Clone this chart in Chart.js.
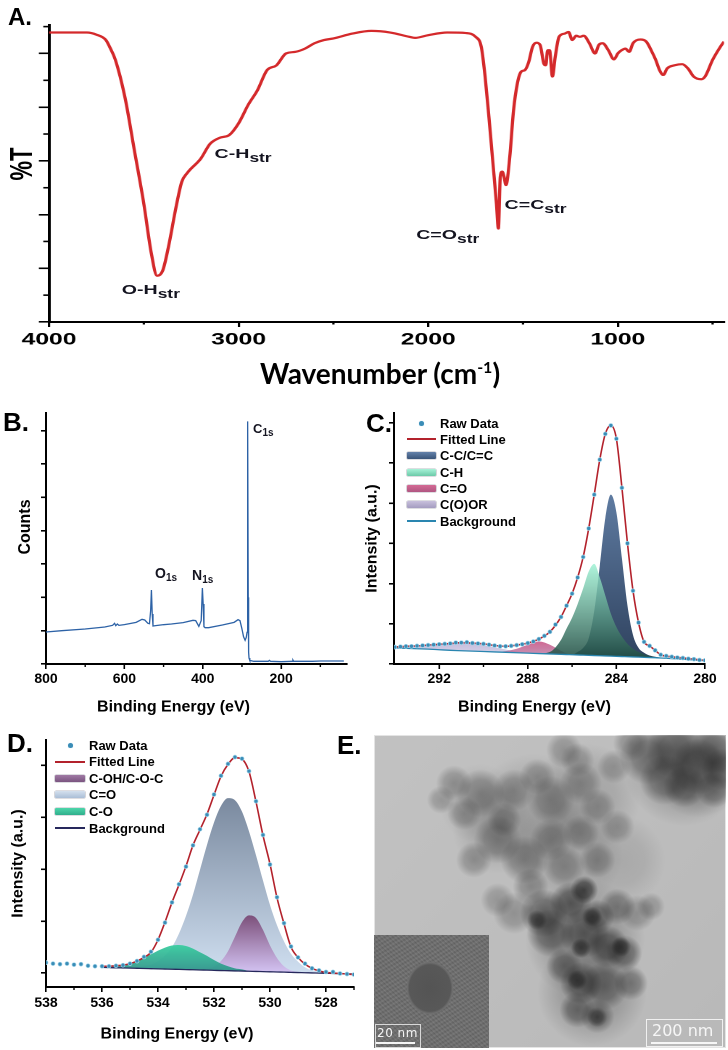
<!DOCTYPE html>
<html><head><meta charset="utf-8">
<script src="https://cdn.jsdelivr.net/npm/chart.js@4.4.1/dist/chart.umd.min.js"></script>
<style>
html,body{margin:0;padding:0;background:#fff;}
body{width:728px;height:1050px;position:relative;overflow:hidden;font-family:'Liberation Sans',Arial,sans-serif;color:#000;}
.cw{position:absolute;}
#wrapA{position:absolute;left:0;top:0;width:502px;height:395px;transform:scaleX(1.45);transform-origin:0 0;}
.lbl{position:absolute;font-weight:bold;line-height:1;white-space:nowrap;color:#141420;}
.lbl sub{line-height:0;}
.rot{position:absolute;font-weight:bold;line-height:1;white-space:nowrap;transform:translate(-50%,-50%) rotate(-90deg);}
.pl{position:absolute;font-weight:bold;font-size:26px;line-height:1;}
.leg{position:absolute;font-weight:bold;font-size:13px;line-height:13px;white-space:nowrap;}
.sym{position:absolute;}
</style>
</head><body>

<div id="wrapA">
  <div class="cw" style="left:0;top:0;width:502px;height:395px"><canvas id="chA"></canvas></div>
  <div class="lbl" style="left:84px;top:283px;font-size:13.5px">O-H<sub style="font-size:12px;vertical-align:-4px">str</sub></div>
  <div class="lbl" style="left:148px;top:147px;font-size:13.5px">C-H<sub style="font-size:12px;vertical-align:-4px">str</sub></div>
  <div class="lbl" style="left:287px;top:228px;font-size:13.5px">C=O<sub style="font-size:12px;vertical-align:-4px">str</sub></div>
  <div class="lbl" style="left:348px;top:198px;font-size:13.5px">C=C<sub style="font-size:12px;vertical-align:-4px">str</sub></div>
  <div class="rot" style="left:14.5px;top:164px;font-size:22px">%T</div>
</div>
<div class="pl" style="left:8px;top:5px;font-size:24px">A.</div>
<div style="position:absolute;left:380px;top:373px;transform:translate(-50%,-50%);font-family:Lato,'Open Sans',sans-serif;font-weight:700;font-size:28px;line-height:1;white-space:nowrap">Wavenumber (cm<sup style="font-size:16px;vertical-align:11px;line-height:0">-1</sup>)</div>

<div class="cw" style="left:0;top:400px;width:364px;height:325px"><canvas id="chB"></canvas></div>
<div class="cw" style="left:364px;top:400px;width:364px;height:325px"><canvas id="chC"></canvas></div>
<div class="cw" style="left:0;top:725px;width:364px;height:325px"><canvas id="chD"></canvas></div>
<div class="cw" style="left:364px;top:725px;width:364px;height:325px"><canvas id="chE"></canvas></div>

<div class="rot" style="left:25px;top:527px;font-size:16px">Counts</div>
<div class="lbl" style="left:253px;top:422px;font-size:13px">C<sub style="font-size:10px;vertical-align:-3px">1s</sub></div>
<div class="lbl" style="left:155px;top:566px;font-size:14px">O<sub style="font-size:10px;vertical-align:-3px">1s</sub></div>
<div class="lbl" style="left:192px;top:568px;font-size:14px">N<sub style="font-size:10px;vertical-align:-3px">1s</sub></div>

<div class="pl" style="left:3px;top:409px">B.</div>
<div class="pl" style="left:366px;top:410px">C.</div>
<div class="pl" style="left:7px;top:730px">D.</div>
<div class="pl" style="left:337px;top:732px">E.</div>

<div id="legC"></div>
<div id="legD"></div>

<div id="inset" style="position:absolute;left:374px;top:935px;width:115px;height:113px;background:radial-gradient(ellipse 24px 27px at 56px 53px,#545454 0%,#585858 86%,#6e6e6e 94%,rgba(108,108,108,0) 100%),repeating-linear-gradient(45deg,rgba(140,140,140,0.35) 0px,rgba(90,90,90,0.2) 2px,rgba(140,140,140,0.3) 3px),repeating-linear-gradient(-30deg,rgba(60,60,60,0.25) 0px,rgba(150,150,150,0.2) 2px,rgba(60,60,60,0.25) 4px),#6c6c6c;"></div>
<div style="position:absolute;left:375px;top:1024px;width:46px;height:24px;border:1px solid #d8d8d8;box-sizing:border-box;"></div>
<div style="position:absolute;left:377px;top:1026px;font-family:'DejaVu Sans',sans-serif;font-size:12px;line-height:14px;color:#f4f4f4;letter-spacing:0.5px">20 nm</div>
<div style="position:absolute;left:376px;top:1042px;width:39px;height:2px;background:#f4f4f4"></div>
<div style="position:absolute;left:646px;top:1019px;width:77px;height:28px;border:1px solid #f0f0f0;box-sizing:border-box;"></div>
<div style="position:absolute;left:652px;top:1022px;font-family:'DejaVu Sans',sans-serif;font-size:16px;line-height:17px;color:#f6f6f6;">200 nm</div>
<div style="position:absolute;left:651px;top:1042px;width:66px;height:2px;background:#f6f6f6"></div>

<script>
// ---------------- DATA ----------------
// Panel A: FTIR
const ftirWavenumber = [4000,3800,3750,3700,3680,3650,3600,3550,3500,3460,
  3430,3400,3370,3330,3300,3270,3200,3150,3100,3050,
  3000,2950,2900,2850,2800,2750,2700,2650,2600,2550,
  2500,2400,2300,2200,2100,2070,2000,1900,1800,1750,
  1720,1700,1680,1660,1640,1630,1620,1610,1600,1590,
  1570,1550,1530,1510,1490,1470,1450,1430,1410,1390,
  1380,1370,1360,1345,1330,1310,1280,1260,1240,1220,
  1200,1180,1150,1120,1100,1080,1050,1020,1000,980,
  960,940,920,880,850,820,800,780,760,740,
  700,660,630,600,560,540,500,460,440];
const ftirTransmittance = [5.39,5.39,5.35,5.25,5.12,4.88,4.19,3.20,2.20,1.27,
  0.86,0.96,1.40,2.14,2.61,2.78,3.04,3.32,3.43,3.48,
  3.70,4.04,4.32,4.69,4.78,5.00,5.03,5.09,5.19,5.25,
  5.28,5.37,5.42,5.39,5.31,5.29,5.34,5.39,5.38,5.31,
  5.12,4.57,3.82,3.01,2.20,1.74,2.70,2.80,2.70,2.55,
  3.07,3.94,4.44,4.66,4.69,4.84,5.12,5.20,5.16,4.81,
  4.78,5.06,5.06,4.57,4.94,5.31,5.37,5.40,5.25,5.33,
  5.31,5.33,5.19,5.00,5.16,5.19,5.06,4.89,5.00,5.06,
  5.09,5.03,5.19,5.26,5.22,5.03,4.88,4.69,4.60,4.72,
  4.78,4.80,4.72,4.57,4.52,4.57,4.88,5.12,5.22];
const ftirTicks = [4000,3000,2000,1000];
const ftirMinorX = [3500,2500,1500,500];
const ftirMajorY = [0,1,2,3,4,5];
const ftirMinorY = [0.5,1.5,2.5,3.5,4.5,5.5];

// Panel B: XPS survey
const surveyEnergy = [800,760,700,650,630,625,622,618,614,600,
  570,555,548,540,536,533,531,529,527,520,
  500,480,450,425,418,410,404,401,399,397,
  394,385,350,320,310,305,300,296,292,289,
  287,286,285,284,283,282,280,270,250,233,
  230,227,200,172,170,168,120,100,40];
const surveyCounts = [0.96,1.00,1.05,1.11,1.16,1.22,1.15,1.20,1.16,1.18,
  1.25,1.34,1.32,1.22,1.21,1.60,2.22,1.50,1.14,1.15,
  1.18,1.20,1.24,1.31,1.30,1.13,1.30,2.28,1.80,1.12,
  1.09,1.09,1.17,1.25,1.33,1.30,1.05,0.82,0.71,0.80,
  0.95,3.00,7.28,2.00,0.35,0.18,0.11,0.08,0.08,0.08,
  0.11,0.08,0.07,0.08,0.12,0.08,0.08,0.09,0.09];
const surveyTicks = [800,600,400,200];
const surveyMinor = [700,500,300,100];
const surveyMajorY = [0,1,2,3,4,5,6,7];

// Panel C: C1s high resolution
const c1sRawEnergy = [294,293.75,293.5,293.25,293,292.75,292.5,292.25,292,291.75,
  291.5,291.25,291,290.75,290.5,290.25,290,289.75,289.5,289.25,
  289,288.75,288.5,288.25,288,287.75,287.5,287.25,287,286.75,
  286.5,286.25,286,285.75,285.5,285.25,285,284.75,284.5,284.25,
  284,283.75,283.5,283.25,283,282.75,282.5,282.25,282,281.75,
  281.5,281.25,281,280.75,280.5,280.25,280];
const c1sRaw = [0.42,0.43,0.44,0.44,0.45,0.46,0.47,0.48,0.49,0.50,
  0.51,0.53,0.53,0.54,0.52,0.51,0.50,0.48,0.46,0.44,
  0.44,0.45,0.47,0.49,0.52,0.56,0.62,0.70,0.80,0.98,
  1.17,1.45,1.75,2.15,2.66,3.37,4.21,5.08,5.72,5.93,
  5.60,4.38,3.00,1.82,1.03,0.55,0.45,0.34,0.23,0.20,
  0.18,0.16,0.15,0.13,0.12,0.10,0.09];
const c1sEnergy = [294,293.5,293,292.5,292,291.5,291,290.5,290,289.5,
  289,288.5,288,287.5,287,286.5,286.25,286,285.75,285.5,
  285.25,285,284.75,284.5,284.25,284,283.75,283.5,283.25,283,
  282.75,282.5,282.25,282,281.5,281,280.5,280];
const c1sFit = [0.42,0.44,0.45,0.47,0.49,0.51,0.53,0.52,0.50,0.46,
  0.44,0.47,0.52,0.62,0.80,1.17,1.45,1.75,2.15,2.66,
  3.37,4.21,5.08,5.72,5.93,5.60,4.38,3.00,1.82,1.03,
  0.55,0.45,0.34,0.23,0.18,0.15,0.12,0.09];
const c1sBackground = [0.40,0.39,0.38,0.37,0.355,0.34,0.33,0.32,0.31,0.30,
  0.29,0.28,0.27,0.26,0.25,0.24,0.235,0.23,0.225,0.22,
  0.215,0.21,0.205,0.20,0.195,0.19,0.185,0.18,0.175,0.17,
  0.165,0.16,0.155,0.15,0.135,0.12,0.10,0.08];
const c1sCC = [0.40,0.39,0.38,0.37,0.355,0.34,0.33,0.32,0.31,0.30,
  0.29,0.28,0.27,0.26,0.25,0.24,0.235,0.23,0.30,0.40,
  0.64,1.32,2.44,3.63,4.21,3.77,2.62,1.45,0.72,0.40,
  0.28,0.21,0.18,0.16,0.135,0.12,0.10,0.08];
const c1sCH = [0.40,0.39,0.38,0.37,0.355,0.34,0.33,0.32,0.31,0.30,
  0.29,0.28,0.27,0.26,0.30,0.60,0.88,1.15,1.49,1.88,
  2.30,2.49,2.15,1.70,1.25,0.92,0.68,0.50,0.38,0.30,
  0.24,0.20,0.17,0.155,0.135,0.12,0.10,0.08];
const c1sCO = [0.40,0.39,0.38,0.37,0.355,0.34,0.33,0.32,0.31,0.30,
  0.32,0.38,0.48,0.56,0.48,0.33,0.26,0.23,0.225,0.22,
  0.215,0.21,0.205,0.20,0.195,0.19,0.185,0.18,0.175,0.17,
  0.165,0.16,0.155,0.15,0.135,0.12,0.10,0.08];
const c1sCOOR = [0.41,0.43,0.45,0.47,0.49,0.51,0.52,0.50,0.47,0.42,
  0.36,0.31,0.28,0.26,0.25,0.24,0.235,0.23,0.225,0.22,
  0.215,0.21,0.205,0.20,0.195,0.19,0.185,0.18,0.175,0.17,
  0.165,0.16,0.155,0.15,0.135,0.12,0.10,0.08];
const c1sTicks = [292,288,284,280];
const c1sMinor = [290,286,282];
const c1sMajorY = [0,1,2,3,4,5,6];

// Panel D: O1s high resolution
const o1sRawEnergy = [538,537.75,537.5,537.25,537,536.75,536.5,536.25,536,535.75,
  535.5,535.25,535,534.75,534.5,534.25,534,533.75,533.5,533.25,
  533,532.75,532.5,532.25,532,531.75,531.5,531.25,531,530.75,
  530.5,530.25,530,529.75,529.5,529.25,529,528.75,528.5,528.25,
  528,527.75,527.5,527.25,527];
const o1sRaw = [0.20,0.18,0.17,0.18,0.16,0.17,0.14,0.13,0.13,0.13,
  0.14,0.15,0.18,0.23,0.31,0.41,0.64,0.97,1.36,1.71,
  2.05,2.46,2.77,3.05,3.44,3.80,4.03,4.16,4.13,3.89,
  3.31,2.66,2.09,1.46,0.96,0.51,0.30,0.18,0.09,0.05,
  0.02,0.02,-0.01,-0.02,-0.03];
const o1sEnergy = [536,535.75,535.5,535.25,535,534.75,534.5,534.25,534,533.75,
  533.5,533.25,533,532.75,532.5,532.25,532,531.75,531.5,531.25,
  531,530.75,530.5,530.25,530,529.75,529.5,529.25,529,528.75,
  528.5,528.25,528,527.75,527.5,527.25,527];
const o1sFit = [0.13,0.13,0.14,0.15,0.18,0.23,0.30,0.40,0.64,0.98,
  1.36,1.70,2.06,2.46,2.76,3.06,3.43,3.79,4.02,4.15,
  4.12,3.88,3.30,2.65,2.10,1.45,0.95,0.50,0.30,0.17,
  0.09,0.04,0.01,0.00,-0.01,-0.02,-0.03];
const o1sBackground = [0.108,0.104,0.100,0.097,0.094,0.090,0.086,0.083,0.080,0.076,
  0.072,0.069,0.065,0.062,0.058,0.055,0.051,0.047,0.044,0.040,
  0.037,0.033,0.030,0.026,0.023,0.019,0.016,0.012,0.008,0.005,
  0.001,-0.002,-0.006,-0.009,-0.013,-0.016,-0.020];
const o1sCOH = [0.108,0.104,0.100,0.097,0.094,0.090,0.086,0.083,0.080,0.076,
  0.072,0.069,0.065,0.062,0.065,0.08,0.12,0.23,0.42,0.70,
  0.98,1.11,1.06,0.83,0.53,0.29,0.13,0.05,0.02,0.005,
  0.001,-0.002,-0.006,-0.009,-0.013,-0.016,-0.020];
const o1sCdO = [0.11,0.10,0.10,0.10,0.10,0.11,0.13,0.16,0.23,0.34,
  0.50,0.76,1.10,1.51,1.99,2.47,2.90,3.22,3.37,3.33,
  3.11,2.73,2.27,1.78,1.31,0.92,0.61,0.37,0.22,0.11,
  0.05,0.03,0.00,-0.01,-0.01,-0.02,-0.02];
const o1sCO = [0.12,0.12,0.13,0.16,0.18,0.23,0.30,0.36,0.43,0.49,
  0.53,0.54,0.52,0.47,0.40,0.33,0.25,0.18,0.13,0.09,
  0.07,0.04,0.03,0.026,0.023,0.019,0.016,0.012,0.008,0.005,
  0.001,-0.002,-0.006,-0.009,-0.013,-0.016,-0.020];
const o1sTicks = [538,536,534,532,530,528];
const o1sMinor = [537,535,533,531,529,527];
const o1sMajorY = [0,1,2,3,4];

// Panel E: TEM particle agglomerate (position in % of frame, radius, darkness)
const particleX = [77.7,85.3,91.9,82.5,96.7,96.7,73.0,88.2,99.0,
  22.7,30.3,39.8,19.0,46.4,54.0,50.2,58.8,63.5,68.2,57.8,25.6,
  35.1,42.7,28.4,50.2,58.8,54.0,63.5,69.2,37.0,44.5,
  48.3,55.9,59.7,50.2,59.7,66.4,71.1,58.8,65.4,57.8,63.5,73.0,54.0,39.8,35.1,74.9,78.7,69.2,63.5,
  58.8,70.2,57.7,63.4,46.3,62.0,
  45,60,35,55,88,60,62,30,92,70];
const particleY = [6.9,4.8,10.1,14.4,4.8,17.6,2.7,16.5,11.0,
  15.4,18.6,17.6,20.7,13.3,4.8,20.7,15.4,22.9,10.1,8.0,25.0,
  33.5,39.9,39.9,33.5,31.4,42.0,39.9,29.3,27.1,48.4,
  56.9,53.7,49.5,63.3,63.3,67.6,69.7,79.3,80.3,87.8,89.9,79.3,73.9,56.9,52.7,56.9,54.8,54.8,58.0,
  68.1,67.7,78.3,90.1,59.1,58.0,
  25,20,30,38,10,65,82,22,12,40];
const particleSize = [28,28,28,25,24,18,18,21,21,
  18,24,21,14,18,18,24,21,18,17,17,17,
  24,24,18,21,18,21,18,17,17,18,
  24,21,14,24,25,21,18,21,24,18,17,17,18,21,17,18,14,18,17,
  10,10,10,10,10,10,
  60,55,45,55,60,60,55,40,45,45];
const particleTone = [0.42,0.45,0.45,0.40,0.42,0.36,0.30,0.40,0.42,
  0.30,0.32,0.30,0.25,0.28,0.28,0.30,0.30,0.28,0.25,0.25,0.28,
  0.34,0.36,0.30,0.30,0.28,0.30,0.28,0.25,0.28,0.33,
  0.55,0.58,0.72,0.50,0.55,0.58,0.50,0.55,0.46,0.46,0.40,0.40,0.44,0.28,0.25,0.28,0.25,0.40,0.46,
  0.62,0.62,0.62,0.58,0.58,0.60,
  0.16,0.16,0.14,0.16,0.25,0.28,0.25,0.12,0.25,0.12];

// ---------------- HELPERS ----------------
Chart.defaults.font.family = "'Liberation Sans', Arial, sans-serif";
Chart.defaults.color = '#000';
Chart.defaults.animation = false;

const xy = (xs, ys) => xs.map((x, i) => ({x: x, y: ys[i]}));

Chart.register({
  id: 'minorTicks',
  afterDraw(chart, args, o) {
    if (!o || (!o.x && !o.y)) return;
    const ctx = chart.ctx, a = chart.chartArea, sx = chart.scales.x, sy = chart.scales.y;
    ctx.save();
    ctx.strokeStyle = '#000';
    ctx.lineWidth = o.width || 1.5;
    (o.x || []).forEach(v => { const p = sx.getPixelForValue(v); ctx.beginPath(); ctx.moveTo(p, a.bottom); ctx.lineTo(p, a.bottom + o.lenX); ctx.stroke(); });
    (o.y || []).forEach(v => { const p = sy.getPixelForValue(v); ctx.beginPath(); ctx.moveTo(a.left, p); ctx.lineTo(a.left - o.lenY, p); ctx.stroke(); });
    ctx.restore();
  }
});

function xAxis(min, max, ticks, o) {
  return {
    type: 'linear', reverse: true, min: min, max: max,
    afterBuildTicks: s => { s.ticks = ticks.map(v => ({value: v})); },
    afterFit: s => { s.height = o.h; },
    border: {display: true, color: '#000', width: o.bw},
    grid: {display: true, drawOnChartArea: false, drawTicks: true, tickLength: o.tl, tickWidth: o.tw, lineWidth: o.tw, color: '#000'},
    ticks: {display: true, autoSkip: false, maxRotation: 0, minRotation: 0, padding: o.pad, color: '#000',
      font: {size: o.fs, weight: 'bold'}, callback: v => String(v)}
  };
}
function yAxis(min, max, ticks, o) {
  return {
    type: 'linear', min: min, max: max,
    afterBuildTicks: s => { s.ticks = ticks.map(v => ({value: v})); },
    afterFit: s => { s.width = o.w; },
    border: {display: true, color: '#000', width: o.bw},
    grid: {display: true, drawOnChartArea: false, drawTicks: true, tickLength: o.tl, tickWidth: o.tw, lineWidth: o.tw, color: '#000'},
    ticks: {display: false},
    title: o.title ? {display: true, text: o.title, color: '#000', font: {size: 16, weight: 'bold', lineHeight: o.tlh}, padding: {top: o.tpad, bottom: 0}} : {display: false}
  };
}
function vGrad(topColor, bottomColor) {
  return c => {
    const ch = c.chart, a = ch.chartArea;
    if (!a) return topColor;
    const ys = ch.scales.y;
    const vals = c.dataset.data.map(p => p.y);
    const top = ys.getPixelForValue(Math.max.apply(null, vals));
    const bot = ys.getPixelForValue(Math.min.apply(null, vals));
    const g = ch.ctx.createLinearGradient(0, top, 0, bot);
    g.addColorStop(0, topColor); g.addColorStop(1, bottomColor);
    return g;
  };
}
const baseOpts = (pad) => ({
  responsive: true, maintainAspectRatio: false, animation: false, devicePixelRatio: 2,
  layout: {padding: pad, autoPadding: false},
  events: []
});
const bottomTitle = (pb) => ({display: true, position: 'bottom', text: 'Binding Energy (eV)', color: '#000',
  font: {size: 16, weight: 'bold'}, padding: {top: 0, bottom: pb}});
const rawStyle = {showLine: false, pointRadius: 2, pointBackgroundColor: '#3a8cb6', pointBorderColor: '#a6d8ec', pointBorderWidth: 0.7};
const lineStyle = (col, w) => ({showLine: true, borderColor: col, borderWidth: w, pointRadius: 0, cubicInterpolationMode: 'monotone', fill: false});
const compStyle = (topC, botC) => ({showLine: true, borderWidth: 0, borderColor: 'rgba(0,0,0,0)', pointRadius: 0, cubicInterpolationMode: 'monotone', fill: 2, backgroundColor: vGrad(topC, botC)});

// ---------------- PANEL A ----------------
const chartA = new Chart(document.getElementById('chA'), {
  type: 'scatter',
  data: {datasets: [Object.assign({label: 'FTIR', data: xy(ftirWavenumber, ftirTransmittance)}, lineStyle('#d4292b', 2.2))]},
  options: Object.assign(baseOpts({left: 0, top: 25, right: 2.7, bottom: 0}), {
    plugins: {legend: {display: false}, tooltip: {enabled: false},
      minorTicks: {x: ftirMinorX, y: ftirMinorY, lenX: 2.5, lenY: 4, width: 1.6}},
    scales: {
      x: xAxis(440, 4000, ftirTicks, {h: 73, bw: 2, tl: 5, tw: 1.6, pad: 2.5, fs: 17}),
      y: yAxis(0, 5.53, ftirMajorY, {w: 33.8, bw: 2, tl: 7, tw: 1.6})
    }
  })
});

// ---------------- PANEL B ----------------
const chartB = new Chart(document.getElementById('chB'), {
  type: 'scatter',
  data: {datasets: [{label: 'Survey', data: xy(surveyEnergy, surveyCounts), showLine: true, borderColor: '#2d62a6', borderWidth: 1.3, pointRadius: 0, tension: 0, fill: false}]},
  options: Object.assign(baseOpts({left: 0, top: 13, right: 17, bottom: 0}), {
    plugins: {legend: {display: false}, tooltip: {enabled: false}, title: bottomTitle(8.4),
      minorTicks: {x: surveyMinor, lenX: 3, width: 1.4}},
    scales: {
      x: xAxis(32, 800, surveyTicks, {h: 33.4, bw: 2, tl: 5, tw: 1.6, pad: 1.6, fs: 14}),
      y: yAxis(0, 7.53, surveyMajorY, {w: 46, bw: 2, tl: 5, tw: 1.6})
    }
  })
});

// ---------------- PANEL C ----------------
const chartC = new Chart(document.getElementById('chC'), {
  type: 'scatter',
  data: {datasets: [
    Object.assign({label: 'Raw Data', data: xy(c1sRawEnergy, c1sRaw)}, rawStyle),
    Object.assign({label: 'Fitted Line', data: xy(c1sEnergy, c1sFit)}, lineStyle('#b3222c', 1.6)),
    Object.assign({label: 'Background', data: xy(c1sEnergy, c1sBackground)}, lineStyle('#2a86b0', 1.3)),
    Object.assign({label: 'C-H', data: xy(c1sEnergy, c1sCH)}, compStyle('rgba(158,242,212,0.82)', 'rgba(28,72,62,0.88)')),
    Object.assign({label: 'C-C/C=C', data: xy(c1sEnergy, c1sCC)}, compStyle('rgba(86,116,156,0.95)', 'rgba(36,56,86,0.95)')),
    Object.assign({label: 'C=O', data: xy(c1sEnergy, c1sCO)}, compStyle('rgba(200,78,128,0.85)', 'rgba(160,100,150,0.6)')),
    Object.assign({label: 'C(O)OR', data: xy(c1sEnergy, c1sCOOR)}, compStyle('rgba(176,166,208,0.75)', 'rgba(205,198,228,0.6)'))
  ]},
  options: Object.assign(baseOpts({left: 0, top: 13, right: 23, bottom: 0}), {
    plugins: {legend: {display: false}, tooltip: {enabled: false}, title: bottomTitle(8.4),
      minorTicks: {x: c1sMinor, lenX: 3, width: 1.4}},
    scales: {
      x: xAxis(280, 294.04, c1sTicks, {h: 33.4, bw: 2, tl: 5, tw: 1.6, pad: 1.6, fs: 14}),
      y: yAxis(0, 6.24, c1sMajorY, {w: 30, bw: 2, tl: 5, tw: 1.6, title: 'Intensity (a.u.)', tlh: 1, tpad: 0})
    }
  })
});

// ---------------- PANEL D ----------------
const chartD = new Chart(document.getElementById('chD'), {
  type: 'scatter',
  data: {datasets: [
    Object.assign({label: 'Raw Data', data: xy(o1sRawEnergy, o1sRaw)}, rawStyle),
    Object.assign({label: 'Fitted Line', data: xy(o1sEnergy, o1sFit)}, lineStyle('#b3222c', 1.6)),
    Object.assign({label: 'Background', data: xy(o1sEnergy, o1sBackground)}, lineStyle('#26285c', 1.3)),
    Object.assign({label: 'C-O', data: xy(o1sEnergy, o1sCO)}, compStyle('rgba(58,206,160,0.95)', 'rgba(44,140,134,0.92)')),
    Object.assign({label: 'C-OH/C-O-C', data: xy(o1sEnergy, o1sCOH)}, compStyle('rgba(122,74,118,0.95)', 'rgba(214,196,246,0.92)')),
    Object.assign({label: 'C=O', data: xy(o1sEnergy, o1sCdO)}, compStyle('rgba(118,134,156,0.97)', 'rgba(206,222,240,0.97)'))
  ]},
  options: Object.assign(baseOpts({left: 0, top: 15, right: 10, bottom: 0}), {
    plugins: {legend: {display: false}, tooltip: {enabled: false}, title: bottomTitle(6.4),
      minorTicks: {x: o1sMinor, lenX: 3, width: 1.4}},
    scales: {
      x: xAxis(527, 538, o1sTicks, {h: 37.4, bw: 2, tl: 5, tw: 1.6, pad: 2.6, fs: 14}),
      y: yAxis(-0.27, 4.49, o1sMajorY, {w: 46, bw: 2, tl: 5, tw: 1.6, title: 'Intensity (a.u.)', tlh: 1.2, tpad: 8.4})
    }
  })
});

// ---------------- PANEL E ----------------
const temBackground = {
  id: 'temBackground',
  beforeDraw(chart) {
    const ctx = chart.ctx, a = chart.chartArea;
    const g = ctx.createLinearGradient(a.left, a.top, a.right, a.bottom);
    g.addColorStop(0, '#c2c2c2'); g.addColorStop(1, '#b9b9b9');
    ctx.save(); ctx.fillStyle = g; ctx.fillRect(a.left, a.top, a.right - a.left, a.bottom - a.top);
    ctx.strokeStyle = '#e4e4e4'; ctx.lineWidth = 1; ctx.strokeRect(a.left + 0.5, a.top + 0.5, a.right - a.left - 1, a.bottom - a.top - 1);
    ctx.restore();
  }
};
const softBlob = c => {
  const ch = c.chart, t = particleTone[c.dataIndex];
  if (!ch.chartArea || !c.raw) return 'rgba(30,30,30,' + t + ')';
  const px = ch.scales.x.getPixelForValue(c.raw.x), py = ch.scales.y.getPixelForValue(c.raw.y), r = c.raw.r;
  const g = ch.ctx.createRadialGradient(px, py, 0, px, py, r);
  g.addColorStop(0, 'rgba(28,28,28,' + t + ')');
  g.addColorStop(0.55, 'rgba(28,28,28,' + (t * 0.75) + ')');
  g.addColorStop(1, 'rgba(28,28,28,0)');
  return g;
};
const chartE = new Chart(document.getElementById('chE'), {
  type: 'bubble',
  data: {datasets: [{label: 'TEM', data: particleX.map((x, i) => ({x: x, y: particleY[i], r: particleSize[i]})),
    backgroundColor: softBlob, borderWidth: 0, clip: 0}]},
  options: Object.assign(baseOpts({left: 10, top: 10, right: 2, bottom: 2}), {
    plugins: {legend: {display: false}, tooltip: {enabled: false}},
    scales: {x: {display: false, min: 0, max: 100}, y: {display: false, min: 0, max: 100, reverse: true}}
  }),
  plugins: [temBackground]
});

// ---------------- HTML LEGENDS ----------------
function buildLegend(el, left, top, step, symW, textX, items) {
  items.forEach((it, i) => {
    const cy = top + i * step;
    const d = document.createElement('div');
    d.className = 'sym';
    if (it.kind === 'dot') {
      d.style.cssText = 'left:' + (left + symW / 2 - 2.5) + 'px;top:' + (cy - 2.5) + 'px;width:5px;height:5px;border-radius:50%;background:' + it.color + ';box-shadow:0 0 1px #9fd4ea;';
    } else if (it.kind === 'line') {
      d.style.cssText = 'left:' + left + 'px;top:' + (cy - it.w / 2) + 'px;width:' + symW + 'px;height:' + it.w + 'px;background:' + it.color + ';';
    } else {
      d.style.cssText = 'left:' + left + 'px;top:' + (cy - 3.5) + 'px;width:' + symW + 'px;height:7px;border-radius:1px;background:linear-gradient(to bottom,' + it.c1 + ',' + it.c2 + ');box-shadow:0 0 0 0.6px rgba(60,60,80,0.35);';
    }
    el.appendChild(d);
    const t = document.createElement('div');
    t.className = 'leg';
    t.style.left = textX + 'px';
    t.style.top = (cy - 6.4) + 'px';
    t.textContent = it.label;
    el.appendChild(t);
  });
}
buildLegend(document.getElementById('legC'), 407, 423, 16.35, 29, 440, [
  {label: chartC.data.datasets[0].label, kind: 'dot', color: '#3a8cb6'},
  {label: chartC.data.datasets[1].label, kind: 'line', color: '#b3222c', w: 2},
  {label: chartC.data.datasets[4].label, kind: 'bar', c1: '#6482aa', c2: '#3a5478'},
  {label: chartC.data.datasets[3].label, kind: 'bar', c1: '#a8f2d8', c2: '#6ccaa8'},
  {label: chartC.data.datasets[5].label, kind: 'bar', c1: '#d46a94', c2: '#b05682'},
  {label: chartC.data.datasets[6].label, kind: 'bar', c1: '#c8c0dc', c2: '#a49cc0'},
  {label: chartC.data.datasets[2].label, kind: 'line', color: '#2a86b0', w: 1.6}
]);
buildLegend(document.getElementById('legD'), 55, 745, 16.6, 30, 89, [
  {label: chartD.data.datasets[0].label, kind: 'dot', color: '#3a8cb6'},
  {label: chartD.data.datasets[1].label, kind: 'line', color: '#b3222c', w: 2},
  {label: chartD.data.datasets[4].label, kind: 'bar', c1: '#a07aa4', c2: '#7a5480'},
  {label: chartD.data.datasets[5].label, kind: 'bar', c1: '#d4e0ee', c2: '#aabed6'},
  {label: chartD.data.datasets[3].label, kind: 'bar', c1: '#4ed6aa', c2: '#2fae8c'},
  {label: chartD.data.datasets[2].label, kind: 'line', color: '#26285c', w: 1.6}
]);
</script>
</body></html>
